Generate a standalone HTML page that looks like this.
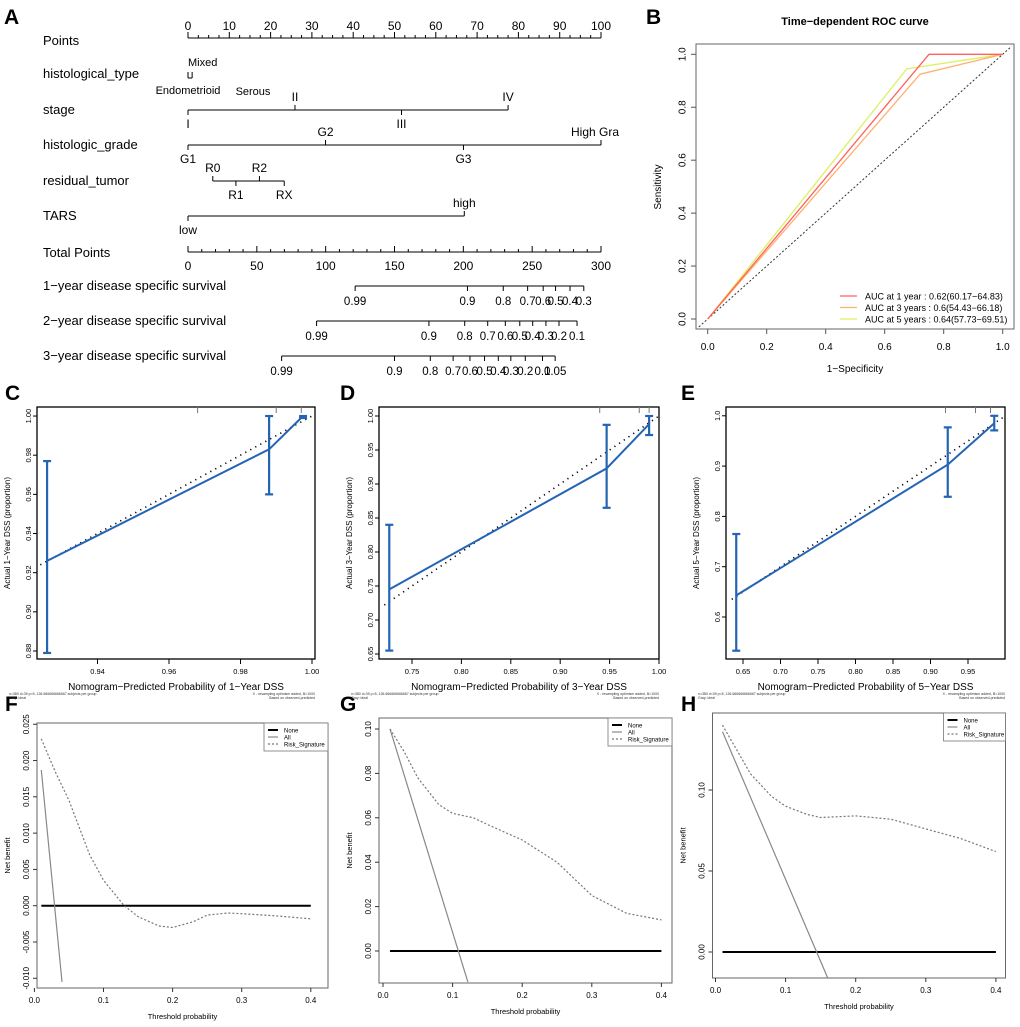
<!DOCTYPE html>
<html><head><meta charset="utf-8"><style>
body{margin:0;background:#fff}
svg{display:block;font-family:"Liberation Sans",Arial,sans-serif}
</style></head><body>
<svg id="fig" width="1020" height="1027" viewBox="0 0 1020 1027"></svg>
<script>
// ---------- Nomogram data ----------
const nomoPointTicks=[0,10,20,30,40,50,60,70,80,90,100];
const nomoTotalTicks=[0,50,100,150,200,250,300];
const stageLabels=["I","II","III","IV"];
const stagePts=[0,25.9,51.7,77.5];
const gradeLabels=["G1","G2","G3","High Gra"];
const gradePts=[0,33.3,66.7,100];
const residLabels=["R0","R1","R2","RX"];
const residPts=[6,11.6,17.3,23.3];
const tarsLabels=["low","high"];
const tarsPts=[0,66.9];
const surv1Labels=["0.99","0.9","0.8","0.7","0.6","0.5","0.4","0.3"];
const surv1Total=[121.4,203,229,246.7,258,267,277.5,287.5];
const surv2Labels=["0.99","0.9","0.8","0.7","0.6","0.5","0.4","0.3","0.2","0.1"];
const surv2Total=[93.4,175,201,217.7,230.5,241,250.4,260,269.5,282.6];
const surv3Labels=["0.99","0.9","0.8","0.7","0.6","0.5","0.4","0.3","0.2","0.1","0.05"];
const surv3Total=[68,150,176,192.6,204.8,215.4,225.4,234.5,245,257.5,266.7];
// ---------- ROC data ----------
const rocX1=[0,0.75,1], rocY1=[0,1,1];
const rocX3=[0,0.72,1], rocY3=[0,0.925,1];
const rocX5=[0,0.675,1], rocY5=[0,0.945,1];
const rocTicks=[0,0.2,0.4,0.6,0.8,1.0];
const rocLegend=["AUC at 1 year : 0.62(60.17\u221264.83)","AUC at 3 years : 0.6(54.43\u221266.18)","AUC at 5 years : 0.64(57.73\u221269.51)"];
// ---------- Calibration data ----------
const calC_pred=[0.9259,0.988,0.9975], calC_obs=[0.926,0.983,1.0], calC_lo=[0.879,0.96,0.999], calC_hi=[0.977,1.0,1.0];
const calC_xt=[0.94,0.96,0.98,1.00], calC_yt=[0.88,0.90,0.92,0.94,0.96,0.98,1.00];
const calD_pred=[0.727,0.947,0.99], calD_obs=[0.745,0.923,0.988], calD_lo=[0.655,0.865,0.972], calD_hi=[0.84,0.987,1.0];
const calD_xt=[0.75,0.80,0.85,0.90,0.95,1.00], calD_yt=[0.65,0.70,0.75,0.80,0.85,0.90,0.95,1.00];
const calE_pred=[0.641,0.923,0.985], calE_obs=[0.643,0.903,0.985], calE_lo=[0.533,0.839,0.971], calE_hi=[0.765,0.977,1.0];
const calE_xt=[0.65,0.70,0.75,0.80,0.85,0.90,0.95], calE_yt=[0.6,0.7,0.8,0.9,1.0];
// ---------- DCA data ----------
const dcaXt=[0,0.1,0.2,0.3,0.4];
const dcaF_thr=[0.01,0.03,0.05,0.08,0.1,0.13,0.15,0.18,0.2,0.23,0.25,0.28,0.3,0.35,0.4];
const dcaF_risk=[0.023,0.0185,0.0145,0.007,0.0035,0.0,-0.0015,-0.0028,-0.003,-0.0022,-0.0013,-0.001,-0.0011,-0.0014,-0.0018];
const dcaF_allX=[0.01,0.04], dcaF_allY=[0.0187,-0.0105];
const dcaF_yt=[-0.010,-0.005,0.000,0.005,0.010,0.015,0.020,0.025];
const dcaG_thr=[0.01,0.03,0.05,0.08,0.1,0.13,0.15,0.2,0.25,0.3,0.35,0.4];
const dcaG_risk=[0.1,0.09,0.078,0.066,0.062,0.06,0.057,0.05,0.04,0.025,0.017,0.014];
const dcaG_allX=[0.01,0.122], dcaG_allY=[0.1,-0.014];
const dcaG_yt=[0,0.02,0.04,0.06,0.08,0.10];
const dcaH_thr=[0.01,0.03,0.05,0.08,0.1,0.13,0.15,0.2,0.25,0.3,0.35,0.4];
const dcaH_risk=[0.14,0.125,0.11,0.096,0.09,0.085,0.083,0.084,0.082,0.076,0.07,0.062];
const dcaH_allX=[0.01,0.16], dcaH_allY=[0.136,-0.016];
const dcaH_yt=[0,0.05,0.10];

const NS="http://www.w3.org/2000/svg";
const svg=document.getElementById('fig');
function mk(tag,attrs,name,parent){
  const el=document.createElementNS(NS,tag);
  for(const k in attrs) el.setAttribute(k,attrs[k]);
  
  
  (parent||svg).appendChild(el);return el;
}
function ln(x1,y1,x2,y2,st,w,name,dash){
  const a={x1,y1,x2,y2,stroke:st,'stroke-width':w};
  if(dash)a['stroke-dasharray']=dash;
  return mk('line',a,name);
}
function tx(x,y,s,size,name,anchor,extra){
  const a={x,y,'font-size':size,'text-anchor':anchor||'middle',fill:'#000'};
  if(extra)for(const k in extra)a[k]=extra[k];
  const t=mk('text',a,name);t.textContent=s;return t;
}
function pl(xs,ys,sx,sy,st,w,name,dash){
  const pts=xs.map((v,i)=>sx(v).toFixed(1)+','+sy(ys[i]).toFixed(1)).join(' ');
  const a={points:pts,fill:'none',stroke:st,'stroke-width':w};
  if(dash)a['stroke-dasharray']=dash;
  return mk('polyline',a,name);
}
// panel letters
[["A",4,24],["B",646,24],["C",5,400],["D",340,400],["E",681,400],["F",5,711],["G",340,711],["H",681,711]].forEach(p=>{
  tx(p[1],p[2],p[0],21,'panel-label-'+p[0].toLowerCase(),'start',{'font-weight':'bold'});
});

// ---------- Nomogram ----------
const px=v=>188+v*4.13, tpx=v=>188+v*413/300;
const LF=13;
tx(43,45,"Points",LF,'points-row-label','start');
ln(px(0),38,px(100),38,'#000',1,'points-axis');
for(let v=0;v<=100;v+=2.5){ln(px(v),38,px(v),v%10===0?32:35,'#000',1,'points-minor-tick');}
nomoPointTicks.forEach(v=>tx(px(v),30,String(v),12,'points-tick-label'));

tx(43,78,"histological_type",LF,'histological-type-label','start');
ln(px(0),72,px(0),78,'#000',1,'histological-tick');ln(px(0),78,px(1),78,'#000',1,'histological-line');ln(px(1),72,px(1),78,'#000',1,'histological-tick');
tx(188,66,"Mixed",11,'histological-mixed','start');
tx(188,94,"Endometrioid",11,'histological-endometrioid');
tx(253,95,"Serous",11,'histological-serous');

function varRow(label,y,labels,pts,ypos,name){
  tx(43,y+4,label,LF,name+'-label','start');
  ln(px(pts[0]),y,px(pts[pts.length-1]),y,'#000',1,name+'-line');
  pts.forEach((v,i)=>{
    const up=ypos[i]<0;
    ln(px(v),y,px(v),y+(up?-5:5),'#000',1,name+'-tick');
    const anchor=labels[i]==="High Gra"?'start':'middle';
    const xx=labels[i]==="High Gra"?571:px(v);
    tx(xx,up?y-9:y+18,labels[i],12,name+'-value-label',anchor);
  });
}
varRow("stage",110,stageLabels,stagePts,[1,-1,1,-1],'stage');
varRow("histologic_grade",145,gradeLabels,gradePts,[1,-1,1,-1],'histologic-grade');
varRow("residual_tumor",181,residLabels,residPts,[-1,1,-1,1],'residual-tumor');
varRow("TARS",216,tarsLabels,tarsPts,[1,-1],'tars');

tx(43,257,"Total Points",LF,'total-points-label','start');
ln(tpx(0),252,tpx(300),252,'#000',1,'total-points-axis');
for(let v=0;v<=300;v+=10){ln(tpx(v),252,tpx(v),v%50===0?246:249,'#000',1,'total-points-tick');}
nomoTotalTicks.forEach(v=>tx(tpx(v),270,String(v),12,'total-points-tick-label'));

function survRow(label,y,labels,tot,name){
  tx(43,y+4,label,LF,name+'-label','start');
  ln(tpx(tot[0]),y,tpx(tot[tot.length-1]),y,'#000',1,name+'-line');
  tot.forEach((v,i)=>{ln(tpx(v),y,tpx(v),y+5,'#000',1,name+'-tick');tx(tpx(v),y+19,labels[i],11.5,name+'-tick-label');});
}
survRow("1\u2212year disease specific survival",286,surv1Labels,surv1Total,'survival-1yr');
survRow("2\u2212year disease specific survival",321,surv2Labels,surv2Total,'survival-2yr');
survRow("3\u2212year disease specific survival",356,surv3Labels,surv3Total,'survival-3yr');

// ---------- ROC ----------
{
const sx=v=>707.7+v*295, sy=v=>319-v*264.7;
mk('rect',{x:696,y:44,width:318,height:285,fill:'none',stroke:'#666','stroke-width':1},'roc-plot-frame');
tx(855,25,"Time\u2212dependent ROC curve",11,'roc-title','middle',{'font-weight':'bold'});
rocTicks.forEach(v=>{
  ln(sx(v),329,sx(v),334,'#555',1,'roc-x-tick');tx(sx(v),350,v.toFixed(1),10,'roc-x-tick-label');
  ln(696,sy(v),691,sy(v),'#555',1,'roc-y-tick');tx(683,sy(v),v.toFixed(1),10,'roc-y-tick-label','middle',{transform:`rotate(-90 683 ${sy(v)})`,'dominant-baseline':'middle'});
});
tx(855,372,"1\u2212Specificity",10,'roc-x-title');
tx(661,187,"Sensitivity",10,'roc-y-title','middle',{transform:'rotate(-90 661 187)'});
ln(sx(-0.03),sy(-0.03),sx(1.03),sy(1.03),'#333',1,'roc-diagonal','2,2');
pl(rocX5,rocY5,sx,sy,'#dcf060',1.3,'roc-curve-5yr');
pl(rocX3,rocY3,sx,sy,'#ffb070',1.3,'roc-curve-3yr');
pl(rocX1,rocY1,sx,sy,'#ff6060',1.3,'roc-curve-1yr');
const cols=['#ff6060','#ffb070','#dcf060'];
rocLegend.forEach((s,i)=>{const y=296+i*11.5;ln(840,y,857,y,cols[i],1.3,'roc-legend-swatch');tx(865,y+3.5,s,9,'roc-legend-entry','start');});
}

// ---------- Calibration ----------
function calib(o){
  const sx=v=>o.x0+(v-o.xa)*o.kx, sy=v=>o.y0-(v-o.ya)*o.ky;
  mk('rect',{x:o.bx,y:407,width:o.bw,height:252,fill:'none',stroke:'#000','stroke-width':1.3},o.n+'-plot-frame');
  o.xt.forEach(v=>{ln(sx(v),659,sx(v),664,'#000',1,o.n+'-x-tick');tx(sx(v),674,v.toFixed(2),7.5,o.n+'-x-tick-label');});
  o.yt.forEach(v=>{ln(o.bx,sy(v),o.bx-4,sy(v),'#000',1,o.n+'-y-tick');tx(o.bx-8,sy(v),v.toFixed(o.yd),7.5,o.n+'-y-tick-label','middle',{transform:`rotate(-90 ${o.bx-8} ${sy(v)})`,'dominant-baseline':'middle'});});
  tx(o.bx-27,533,o.ylab,8,o.n+'-y-title','middle',{transform:`rotate(-90 ${o.bx-27} 533)`});
  tx(o.bx+o.bw/2,690,o.xlab,10,o.n+'-x-title');
  tx(o.bx-28,695,"n=380 d=39 p=5, 126.666666666667 subjects per group",3.5,o.n+'-subtitle','start',{fill:'#333'});
  tx(o.bx-28,699,"Gray: ideal",3.5,o.n+'-subtitle-ideal','start',{fill:'#333'});
  tx(o.bx+o.bw,695,"X - resampling optimism added, B=1000",3.5,o.n+'-subtitle-right','end',{fill:'#333'});
  tx(o.bx+o.bw,699,"Based on observed-predicted",3.5,o.n+'-subtitle-right2','end',{fill:'#333'});
  o.rug.forEach(v=>ln(sx(v),407,sx(v),413,'#777',1,o.n+'-rug-tick'));
  ln(sx(o.d0),sy(o.d0+o.dOff),sx(1.0),sy(1.0),'#000',1.6,o.n+'-ideal-dotted','1.2,4.5');
  pl(o.pred,o.obs,sx,sy,'#2464b4',2,o.n+'-calibration-line');
  o.pred.forEach((p,i)=>{
    ln(sx(p),sy(o.lo[i]),sx(p),sy(o.hi[i]),'#2464b4',2.2,o.n+'-error-bar');
    ln(sx(p)-4,sy(o.lo[i]),sx(p)+4,sy(o.lo[i]),'#2464b4',2.2,o.n+'-error-cap');
    ln(sx(p)-4,sy(o.hi[i]),sx(p)+4,sy(o.hi[i]),'#2464b4',2.2,o.n+'-error-cap');
  });
}
calib({n:'cal-1yr',bx:37,bw:278,x0:312,xa:1.0,kx:3575,y0:651,ya:0.88,ky:1958,xt:calC_xt,yt:calC_yt,yd:2,
  pred:calC_pred,obs:calC_obs,lo:calC_lo,hi:calC_hi,d0:0.924,dOff:0,rug:[0.968,0.99,0.997],
  ylab:"Actual 1\u2212Year DSS (proportion)",xlab:"Nomogram\u2212Predicted Probability of 1\u2212Year DSS"});
calib({n:'cal-3yr',bx:379,bw:280,x0:412,xa:0.75,kx:988,y0:654,ya:0.65,ky:680,xt:calD_xt,yt:calD_yt,yd:2,
  pred:calD_pred,obs:calD_obs,lo:calD_lo,hi:calD_hi,d0:0.722,dOff:0,rug:[0.94,0.98,0.99],
  ylab:"Actual 3\u2212Year DSS (proportion)",xlab:"Nomogram\u2212Predicted Probability of 3\u2212Year DSS"});
calib({n:'cal-5yr',bx:726,bw:279,x0:743,xa:0.65,kx:750,y0:617,ya:0.6,ky:503,xt:calE_xt,yt:calE_yt,yd:1,
  pred:calE_pred,obs:calE_obs,lo:calE_lo,hi:calE_hi,d0:0.635,dOff:0,rug:[0.92,0.96,0.98],
  ylab:"Actual 5\u2212Year DSS (proportion)",xlab:"Nomogram\u2212Predicted Probability of 5\u2212Year DSS"});

// ---------- DCA ----------
function dca(o){
  const sx=v=>o.x0+v*o.kx, sy=v=>o.y0-v*o.ky;
  mk('rect',{x:o.bx,y:o.by,width:o.bw,height:o.bh,fill:'none',stroke:'#666','stroke-width':1},o.n+'-plot-frame');
  const clipId=o.n+'-clip';
  const cp=mk('clipPath',{id:clipId},o.n+'-clip-path');
  mk('rect',{x:o.bx,y:o.by,width:o.bw,height:o.bh},o.n+'-clip-rect',cp);
  dcaXt.forEach(v=>{ln(sx(v),o.by+o.bh,sx(v),o.by+o.bh+4,'#333',1,o.n+'-x-tick');tx(sx(v),o.by+o.bh+15,v.toFixed(1),8,o.n+'-x-tick-label');});
  o.yt.forEach(v=>{ln(o.bx,sy(v),o.bx-4,sy(v),'#333',1,o.n+'-y-tick');tx(o.bx-10,sy(v),v.toFixed(o.yd),8,o.n+'-y-tick-label','middle',{transform:`rotate(-90 ${o.bx-10} ${sy(v)})`,'dominant-baseline':'middle'});});
  tx(o.bx-27,o.by+o.bh/2,"Net benefit",7.5,o.n+'-y-title','middle',{transform:`rotate(-90 ${o.bx-27} ${o.by+o.bh/2})`});
  tx(o.bx+o.bw/2,o.by+o.bh+31,"Threshold probability",7.5,o.n+'-x-title');
  ln(sx(0.01),sy(0),sx(0.4),sy(0),'#000',2,o.n+'-none-line');
  pl(o.allX,o.allY,sx,sy,'#888',1.2,o.n+'-all-line').setAttribute('clip-path',`url(#${clipId})`);
  pl(o.thr,o.risk,sx,sy,'#777',1.2,o.n+'-risk-signature-line','2,2');
  const lx=o.bx+o.bw-o.lw, ly=o.by;
  mk('rect',{x:lx,y:ly,width:o.lw,height:28,fill:'#fff',stroke:'#777','stroke-width':0.8},o.n+'-legend-box');
  const ents=[["None",'#000',2,null],["All",'#888',1.2,null],["Risk_Signature",'#777',1.2,'2,2']];
  ents.forEach((e,i)=>{const y=ly+7+i*7;ln(lx+4,y,lx+14,y,e[1],e[2],o.n+'-legend-swatch',e[3]);tx(lx+20,y+2.5,e[0],6,o.n+'-legend-entry','start');});
}
dca({n:'dca-1yr',bx:37,by:723,bw:291,bh:265,x0:34.4,kx:691,y0:905.7,ky:7257,lw:64,yd:3,yt:dcaF_yt,thr:dcaF_thr,risk:dcaF_risk,allX:dcaF_allX,allY:dcaF_allY});
dca({n:'dca-3yr',bx:379,by:718,bw:293,bh:265,x0:383,kx:696,y0:951,ky:2220,lw:64,yd:2,yt:dcaG_yt,thr:dcaG_thr,risk:dcaG_risk,allX:dcaG_allX,allY:dcaG_allY});
dca({n:'dca-5yr',bx:712.5,by:713,bw:293,bh:265,x0:715.5,kx:701,y0:952,ky:1620,lw:62,yd:2,yt:dcaH_yt,thr:dcaH_thr,risk:dcaH_risk,allX:dcaH_allX,allY:dcaH_allY});
</script>
</body></html>
